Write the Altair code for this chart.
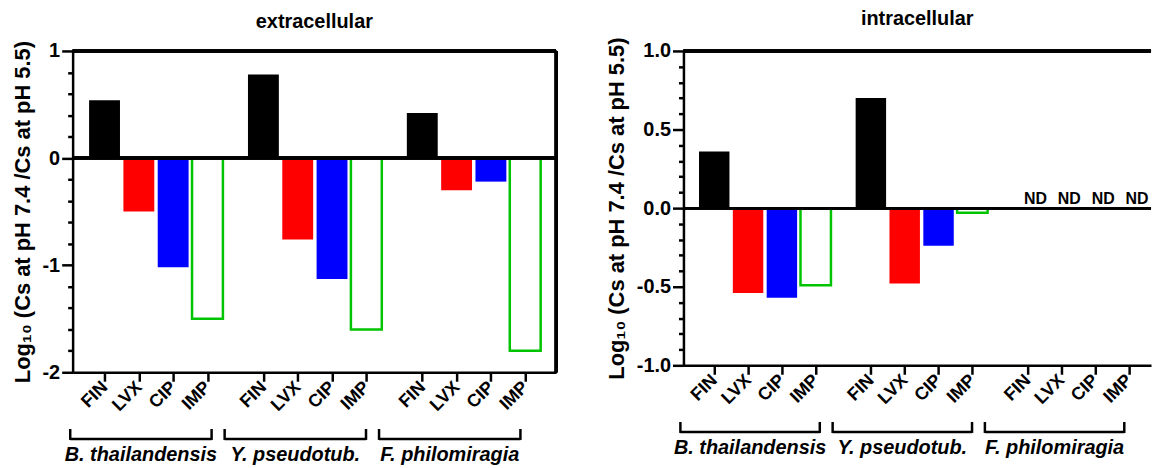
import altair as alt
import pandas as pd
import numpy as np

# ---------------- data ----------------
groups = ["B. thailandensis", "Y. pseudotub.", "F. philomiragia"]
drugs = ["FIN", "LVX", "CIP", "IMP"]

extra_bt = [0.54, -0.50, -1.02, -1.50]
extra_yp = [0.78, -0.76, -1.13, -1.60]
extra_fp = [0.42, -0.30, -0.22, -1.80]

intra_bt = [0.36, -0.54, -0.57, -0.49]
intra_yp = [0.70, -0.48, -0.24, -0.03]
intra_fp = [None, None, None, None]  # ND (not determined)

drug_colors = ["#000000", "#FF0000", "#0000FF", "#00C400"]

# ---------------- layout constants ----------------
FONT = "Liberation Sans"
GROUP_STEP = 4.63      # slot distance between groups
BAR_HALF = 0.45        # half bar width in slot units
BR_STEP, BR_START, BR_WIDTH = 4.5, -1.0, 4.12
LW = 2.5


def build_df(vals_by_group):
    rows = []
    for g, (name, vals) in enumerate(zip(groups, vals_by_group)):
        for d, (drug, v) in enumerate(zip(drugs, vals)):
            pos = g * GROUP_STEP + d
            rows.append({"group": name, "drug": drug, "val": v, "pos": pos,
                         "x0": pos - BAR_HALF, "x1": pos + BAR_HALF})
    return pd.DataFrame(rows)


def bracket_df():
    rows = []
    for g, name in enumerate(groups):
        b0 = g * BR_STEP + BR_START
        b1 = b0 + BR_WIDTH
        rows.append({"group": name, "b0": b0, "b1": b1, "bc": (b0 + b1) / 2})
    return pd.DataFrame(rows)


def panel(title, vals_by_group, W, H, xdom, ydom, major, minor, fmt, show_nd, tpad):
    df = build_df(vals_by_group)
    br = bracket_df()
    ticks = sorted(df["pos"].tolist())
    names = ",".join(f"'{d}'" for d in drugs)
    x_axis = alt.Axis(values=ticks, title=None,
                      labelExpr=f"[{names}][round(datum.value % {GROUP_STEP})]",
                      labelAngle=-45, labelAlign="right", labelBaseline="middle",
                      labelFontSize=18, labelFontWeight="bold", labelPadding=3,
                      labelOverlap=False, labelBound=False, labelFlush=False,
                      tickSize=9)
    minor_vals = [float(v) for v in np.round(np.arange(ydom[0], ydom[1] + 1e-9, minor), 3)]
    is_major = f"abs(datum.value/{major} - round(datum.value/{major})) < 1e-6"
    y_axis = alt.Axis(values=minor_vals, title="Log\u2081\u2080 (Cs at pH 7.4 /Cs at pH 5.5)",
                      labelExpr=f"{is_major} ? replace(format(datum.value, '{fmt}'), '\u2212', '-') : ''",
                      tickSize={"condition": {"test": is_major, "value": 11}, "value": 5},
                      labelFontSize=20, labelFontWeight="bold", labelPadding=2,
                      labelOverlap=False, labelFlush=False,
                      titleFontSize=22, titleFontWeight="bold", titlePadding=tpad)
    xs = alt.Scale(domain=xdom, nice=False, zero=False)
    ys = alt.Scale(domain=ydom, nice=False, zero=False)

    base = alt.Chart(df).transform_filter("isValid(datum.val)")
    filled = base.transform_filter("datum.drug != 'IMP'").mark_rect().encode(
        x=alt.X("x0:Q", scale=xs, axis=x_axis),
        x2="x1:Q",
        y=alt.Y("val:Q", scale=ys, axis=y_axis),
        y2=alt.Y2(datum=0),
        color=alt.Color("drug:N", scale=alt.Scale(domain=drugs, range=drug_colors), legend=None),
    )
    open_bar = base.transform_filter("datum.drug == 'IMP'").mark_rect(
        fill="white", stroke=drug_colors[3], strokeWidth=LW).encode(
        x=alt.X("x0:Q", scale=xs, axis=x_axis),
        x2="x1:Q",
        y=alt.Y("val:Q", scale=ys, axis=y_axis),
        y2=alt.Y2(datum=0),
    )
    zero = alt.Chart(df).mark_rule(color="black", strokeWidth=LW).encode(
        y=alt.YDatum(0, scale=ys, axis=y_axis),
        x=alt.value(0), x2=alt.value(W),
    )
    top = alt.Chart(df).mark_rule(color="black", strokeWidth=LW).encode(
        y=alt.value(0), x=alt.value(0), x2=alt.value(W))
    layers = [filled, open_bar, zero, top]
    if not show_nd:
        right = alt.Chart(df).mark_rule(color="black", strokeWidth=LW).encode(
            x=alt.value(W), y=alt.value(0), y2=alt.value(H))
        layers.append(right)
    # group brackets
    hline = alt.Chart(br).mark_rule(color="black", strokeWidth=LW).encode(
        x=alt.X("b0:Q", scale=xs, axis=x_axis), x2="b1:Q",
        y=alt.value(H + 67))
    l_end = alt.Chart(br).mark_rule(color="black", strokeWidth=LW).encode(
        x=alt.X("b0:Q", scale=xs, axis=x_axis),
        y=alt.value(H + 57), y2=alt.value(H + 68))
    r_end = alt.Chart(br).mark_rule(color="black", strokeWidth=LW).encode(
        x=alt.X("b1:Q", scale=xs, axis=x_axis),
        y=alt.value(H + 57), y2=alt.value(H + 68))
    glabel = alt.Chart(br).mark_text(font=FONT, fontSize=20, fontWeight="bold",
                                     fontStyle="italic", baseline="alphabetic",
                                     color="black").encode(
        x=alt.X("bc:Q", scale=xs, axis=x_axis),
        y=alt.value(H + 89), text="group:N")
    layers += [hline, l_end, r_end, glabel]
    if show_nd:
        nd = alt.Chart(df).transform_filter("!isValid(datum.val)").transform_calculate(
            lbl="'ND'").mark_text(font=FONT, fontSize=16, fontWeight="bold",
                                  baseline="alphabetic", dx=8, dy=-4, color="black").encode(
            x=alt.X("pos:Q", scale=xs, axis=x_axis),
            y=alt.YDatum(0, scale=ys, axis=y_axis),
            text="lbl:N")
        layers.append(nd)
    return alt.layer(*layers).properties(
        width=W, height=H,
        title=alt.TitleParams(title, font=FONT, fontSize=20, fontWeight="bold",
                              anchor="middle", frame="group", offset=8, color="black"))


left = panel("extracellular", [extra_bt, extra_yp, extra_fp], 486, 323,
             [-0.93, 13.16], [-2, 1], 1, 0.2, ".0f", False, 8)
right = panel("intracellular", [intra_bt, intra_yp, intra_fp], 470, 316,
              [-0.91, 12.91], [-1, 1], 0.5, 0.1, ".1f", True, 8)

chart = alt.hconcat(left, right, spacing=47).properties(
    padding={"left": 11, "top": 7, "right": 0, "bottom": 0},
    background="white",
).configure_view(strokeWidth=0).configure_axis(
    domainColor="black", domainWidth=LW, tickColor="black", tickWidth=LW,
    labelFont=FONT, titleFont=FONT, labelColor="black", titleColor="black", grid=False,
).configure_text(font=FONT)

chart.save("out.html", embed_options={"renderer": "svg", "actions": False})
